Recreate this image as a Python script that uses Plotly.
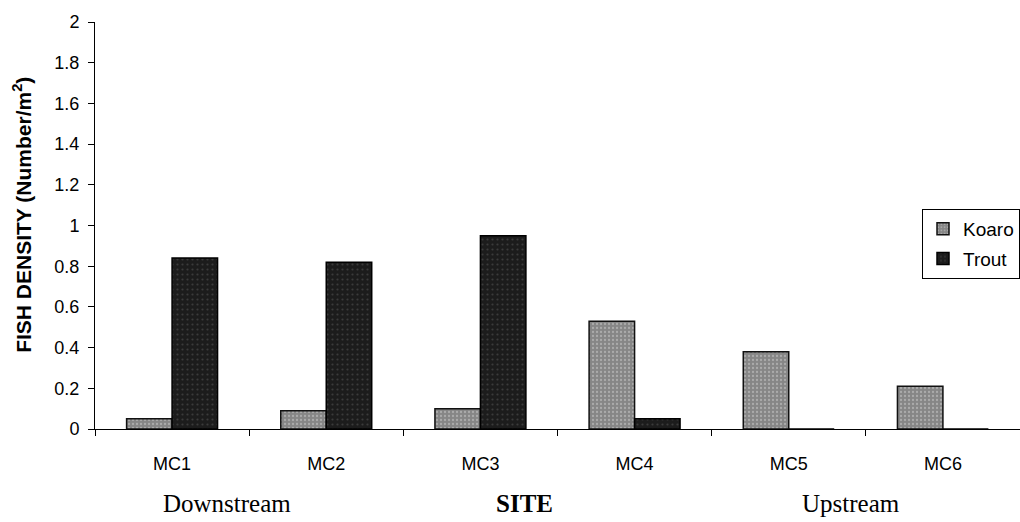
import plotly.graph_objects as go

# Fish density by site along the stream
sites = ["MC1", "MC2", "MC3", "MC4", "MC5", "MC6"]
koaro = [0.05, 0.09, 0.10, 0.53, 0.38, 0.21]
trout = [0.84, 0.82, 0.95, 0.05, 0.0, 0.0]
y_ticks = [0, 0.2, 0.4, 0.6, 0.8, 1.0, 1.2, 1.4, 1.6, 1.8, 2.0]
boundaries = [0.5, 1.5, 2.5, 3.5, 4.5]

SANS = "Liberation Sans, Arial, sans-serif"
SERIF = "Liberation Serif, Times New Roman, serif"

fig = go.Figure()
fig.add_trace(go.Bar(
    name="Koaro", x=sites, y=koaro, legendgroup="k",
    marker=dict(color="#868686", line=dict(color="#111111", width=1.5),
                pattern=dict(shape=".", fgcolor="#cfcfcf", size=4, solidity=0.25)),
))
fig.add_trace(go.Bar(
    name="Trout", x=sites, y=trout, legendgroup="t",
    marker=dict(color="#1c1c1c", line=dict(color="#000000", width=1.5),
                pattern=dict(shape=".", fgcolor="#5a5a5a", size=5, solidity=0.15)),
))

fig.update_layout(
    width=1020, height=522,
    margin=dict(l=95, r=0, t=22, b=93),
    paper_bgcolor="white", plot_bgcolor="white",
    barmode="group", bargap=0.41, bargroupgap=0,
    font=dict(family=SANS, size=18, color="black"),
    showlegend=True,
    legend=dict(
        x=1.0, y=0.5405, xanchor="right", yanchor="top",
        bordercolor="black", borderwidth=1, bgcolor="white",
        font=dict(family=SANS, size=19, color="black"),
        tracegroupgap=2,
    ),
    xaxis=dict(
        type="category", categoryorder="array", categoryarray=sites,
        range=[-0.5, 5.5],
        showline=True, linecolor="black", linewidth=1,
        showgrid=False, zeroline=False,
        ticks="outside", tickson="boundaries", ticklen=6, tickcolor="black",
        ticklabelstandoff=18,
        tickfont=dict(family=SANS, size=18),
    ),
    # inner half of the crossing tick marks on the category axis
    xaxis2=dict(
        overlaying="x", anchor="y", side="bottom", type="linear",
        range=[-0.5, 5.5], tickvals=boundaries, showticklabels=False,
        ticks="inside", ticklen=6, tickcolor="black",
        showline=False, showgrid=False, zeroline=False,
    ),
    yaxis=dict(
        range=[0, 2], tickvals=y_ticks,
        showline=True, linecolor="black", linewidth=1,
        showgrid=False, zeroline=False,
        ticks="outside", ticklen=6, tickcolor="black",
        ticklabelstandoff=5,
        tickfont=dict(family=SANS, size=18),
    ),
    # inner half of the crossing tick marks on the value axis
    yaxis2=dict(
        overlaying="y", anchor="x", side="left",
        range=[0, 2], tickvals=y_ticks, showticklabels=False,
        ticks="inside", ticklen=6, tickcolor="black",
        showline=False, showgrid=False, zeroline=False,
    ),
)

fig.add_annotation(
    text="<b>FISH DENSITY (Number/m<sup>2</sup>)</b>",
    xref="paper", yref="paper", x=-0.079, y=0.526,
    xanchor="center", yanchor="middle", textangle=-90, showarrow=False,
    font=dict(family=SANS, size=21, color="black"),
)

for label, xpos, bold in [("Downstream", 0.1427, False),
                          ("SITE", 0.4638, True),
                          ("Upstream", 0.817, False)]:
    fig.add_annotation(
        text=f"<b>{label}</b>" if bold else label,
        xref="paper", yref="paper", x=xpos, y=-0.182,
        xanchor="center", yanchor="middle", showarrow=False,
        font=dict(family=SERIF, size=25, color="black"),
    )

fig.write_html("out.html")
